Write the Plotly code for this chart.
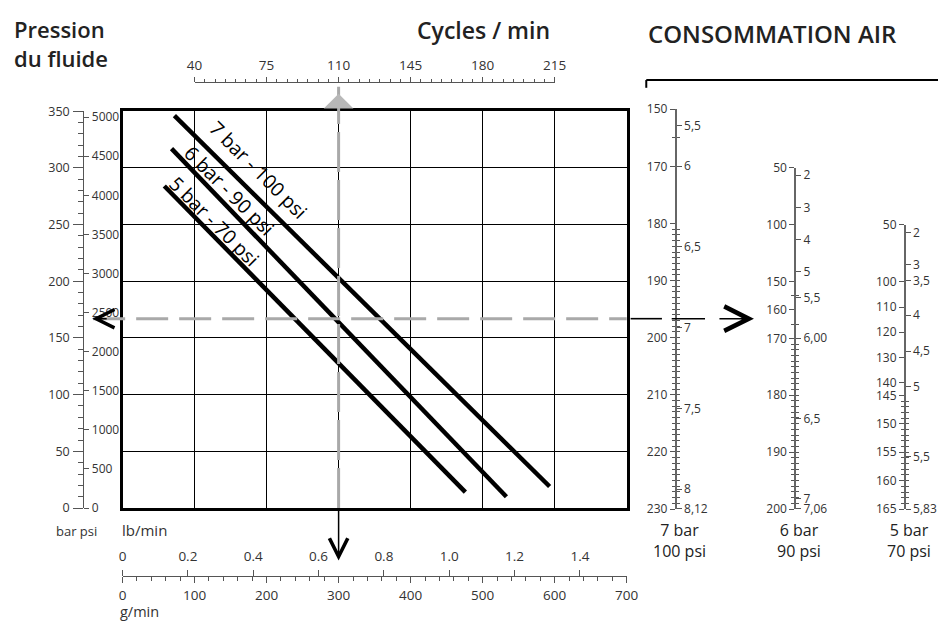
import numpy as np
import plotly.graph_objects as go

# ---------------- data ----------------
flow_g_ticks = [0, 100, 200, 300, 400, 500, 600, 700]
flow_lb_ticks = [0, 0.2, 0.4, 0.6, 0.8, 1.0, 1.2, 1.4]
flow_lb_labels = ["0", "0.2", "0.4", "0.6", "0.8", "1.0", "1.2", "1.4"]
cycles_ticks = [40, 75, 110, 145, 180, 215]
bar_ticks = [0, 50, 100, 150, 200, 250, 300, 350]
psi_ticks = [0, 500, 1000, 1500, 2000, 2500, 3000, 3500, 4000, 4500, 5000]

curve_names = ["7 bar - 100 psi", "6 bar - 90 psi", "5 bar - 70 psi"]
curve_flow_g = [[72, 593], [68, 533], [58, 476]]
curve_pressure_bar = [[346, 19], [317, 10], [284, 14]]
curve_label_flow_g = [168, 136, 117]
curve_label_offset = [15, 9, 8]

example_flow_g = 300          # 110 cycles/min
example_pressure_bar = 167

# air consumption scales (l/min on the left, cfm on the right)
air7_lmin = [150, 170, 180, 190, 200, 210, 220, 230]
air7_cfm = [5.5, 6, 6.5, 7, 7.5, 8, 8.12]
air7_cfm_text = ["5,5", "6", "6,5", "7", "7,5", "8", "8,12"]
air7_minor_lmin = [160] + list(range(181, 230))
air7_knots_lmin = [150, 170, 230]
air7_knots_pos = [0, 10, 70]

air6_lmin = [50, 100, 150, 160, 170, 180, 190, 200]
air6_cfm = [2, 3, 4, 5, 5.5, 6, 6.5, 7, 7.06]
air6_cfm_text = ["2", "3", "4", "5", "5,5", "6,00", "6,5", "7", "7,06"]
air6_minor_lmin = [155, 165] + list(range(171, 200))
air6_knots_lmin = [50, 150, 170, 200]
air6_knots_pos = [0, 20, 30, 60]

air5_lmin = [50, 100, 110, 120, 130, 140, 145, 150, 155, 160, 165]
air5_cfm = [2, 3, 3.5, 4, 4.5, 5, 5.5, 5.83]
air5_cfm_text = ["2", "3", "3,5", "4", "4,5", "5", "5,5", "5,83"]
air5_minor_lmin = list(range(146, 165))
air5_knots_lmin = [50, 100, 145, 165]
air5_knots_pos = [0, 10, 30, 50]

G_PER_LB = 453.592
PSI_PER_BAR = 14.5038
L_PER_CFM = 28.317
CYCLES_AT_100G = 40
CYCLES_PER_G = 0.35

# ---------------- layout geometry (pixels) ----------------
W, H = 950, 626
FONT = "Open Sans"
TXT = "#333333"
AX = "#555555"


def px(x):
    return x / W


def py(y):
    return 1 - y / H


MAIN_X = (117, 632)
MAIN_Y = (513, 105)
PRESSURE_AXIS_X = 77
FLOW_AXIS_Y = 583
CYCLES_AXIS_Y = 75
SCALE_BOTTOM = 514
SCALES = [
    dict(x=682, top=103, lmin=air7_lmin, cfm=air7_cfm, cfm_text=air7_cfm_text,
         minor=air7_minor_lmin, kl=air7_knots_lmin, kp=air7_knots_pos, cap="7 bar<br>100 psi"),
    dict(x=804, top=163, lmin=air6_lmin, cfm=air6_cfm, cfm_text=air6_cfm_text,
         minor=air6_minor_lmin, kl=air6_knots_lmin, kp=air6_knots_pos, cap="6 bar<br>90 psi"),
    dict(x=916, top=222, lmin=air5_lmin, cfm=air5_cfm, cfm_text=air5_cfm_text,
         minor=air5_minor_lmin, kl=air5_knots_lmin, kp=air5_knots_pos, cap="5 bar<br>70 psi"),
]

main_dom_x = [px(MAIN_X[0]), px(MAIN_X[1])]
main_dom_y = [py(MAIN_Y[0]), py(MAIN_Y[1])]


def g_to_paper(g):
    return main_dom_x[0] + g / 700 * (main_dom_x[1] - main_dom_x[0])


def cycles_to_g(c):
    return 100 + (c - CYCLES_AT_100G) / CYCLES_PER_G


def tf(size):
    return dict(family=FONT, size=size, color=TXT)


fig = go.Figure()

# pressure / flow curves
for name, g, p in zip(curve_names, curve_flow_g, curve_pressure_bar):
    fig.add_trace(go.Scatter(x=g, y=p, mode="lines", name=name,
                             line=dict(color="black", width=4.5),
                             showlegend=False, hoverinfo="skip"))


def anchor_trace(xa, ya):
    fig.add_trace(go.Scatter(x=[None], y=[None], xaxis=xa, yaxis=ya, mode="markers",
                             showlegend=False, hoverinfo="skip"))


for xa, ya in [("x", "y2"), ("x", "y3"), ("x2", "y"), ("x3", "y"), ("x4", "y4"),
               ("x5", "y5"), ("x5", "y6"), ("x5", "y7"), ("x5", "y8"), ("x5", "y9"), ("x5", "y10")]:
    anchor_trace(xa, ya)

layout = dict(
    width=W, height=H, margin=dict(l=0, r=0, t=0, b=0),
    paper_bgcolor="white", plot_bgcolor="rgba(0,0,0,0)",
    font=dict(family=FONT, color=TXT),
    showlegend=False,
    xaxis=dict(domain=main_dom_x, range=[0, 700], anchor="y", tickmode="array",
               tickvals=flow_g_ticks, showticklabels=False, ticks="",
               showgrid=True, gridcolor="black", gridwidth=1.2, zeroline=False,
               showline=True, linecolor="black", linewidth=3, mirror=True),
    yaxis=dict(domain=main_dom_y, range=[0, 350], anchor="x", tickmode="array",
               tickvals=bar_ticks, showticklabels=False, ticks="",
               showgrid=True, gridcolor="black", gridwidth=1.2, zeroline=False,
               showline=True, linecolor="black", linewidth=3, mirror=True),
    # bar (left) and psi (right) pressure scale
    yaxis2=dict(overlaying="y", anchor="free", position=px(PRESSURE_AXIS_X), side="left",
                range=[0, 350], tickmode="array", tickvals=bar_ticks, ticks="outside",
                ticklen=10, tickcolor=AX, showline=True, linecolor=AX, linewidth=1.2,
                showgrid=False, zeroline=False, tickfont=tf(12.5), ticklabelstandoff=1,
                minor=dict(dtick=10, tick0=0, ticks="outside", ticklen=5, tickcolor=AX)),
    yaxis3=dict(overlaying="y", anchor="free", position=px(PRESSURE_AXIS_X), side="right",
                range=[0, 350 * PSI_PER_BAR], tickmode="array", tickvals=psi_ticks,
                ticks="outside", ticklen=5, tickcolor=AX, showline=False,
                showgrid=False, zeroline=False, tickfont=tf(12),
                ticklabelstandoff=0),
    # g/min (below) and lb/min (above) flow scale
    xaxis2=dict(overlaying="x", anchor="free", position=py(FLOW_AXIS_Y), side="bottom",
                range=[0, 700], tickmode="array", tickvals=flow_g_ticks, ticks="outside",
                ticklen=6, tickcolor=AX, showline=True, linecolor=AX, linewidth=1.2,
                showgrid=False, zeroline=False, tickfont=tf(13.5), ticklabelstandoff=1,
                minor=dict(dtick=20, tick0=0, ticks="outside", ticklen=4, tickcolor=AX)),
    xaxis3=dict(overlaying="x", anchor="free", position=py(FLOW_AXIS_Y), side="top",
                range=[0, 700 / G_PER_LB], tickmode="array", tickvals=flow_lb_ticks,
                ticktext=flow_lb_labels, ticks="outside", ticklen=6, tickcolor=AX,
                showline=False, showgrid=False, zeroline=False, tickfont=tf(13.5),
                ticklabelstandoff=4),
    # cycles / min
    xaxis4=dict(domain=[g_to_paper(cycles_to_g(cycles_ticks[0])), g_to_paper(cycles_to_g(cycles_ticks[-1]))],
                range=[cycles_ticks[0], cycles_ticks[-1]], anchor="free",
                position=py(CYCLES_AXIS_Y), side="top", tickmode="array",
                tickvals=cycles_ticks, ticks="outside", ticklen=5, tickcolor=AX,
                showline=True, linecolor=AX, linewidth=1.2, showgrid=False,
                zeroline=False, tickfont=tf(13.5), ticklabelstandoff=1,
                minor=dict(dtick=5, tick0=40, ticks="outside", ticklen=3, tickcolor=AX)),
    yaxis4=dict(domain=[py(80), 1], range=[0, 1], anchor="x4", visible=False),
    xaxis5=dict(domain=[px(640), 1], range=[0, 1], anchor="y5", visible=False),
)

for i, sc in enumerate(SCALES):
    yl = f"yaxis{5 + 2 * i}"
    yr = f"yaxis{6 + 2 * i}"
    dom = [py(SCALE_BOTTOM), py(sc["top"])]
    rng = [sc["kp"][-1], sc["kp"][0]]
    lpos = list(np.interp(sc["lmin"], sc["kl"], sc["kp"]))
    cpos = list(np.interp(np.array(sc["cfm"]) * L_PER_CFM, sc["kl"], sc["kp"]))
    mpos = list(np.interp(sc["minor"], sc["kl"], sc["kp"]))
    common = dict(anchor="free", position=px(sc["x"]), range=rng, tickmode="array",
                  ticks="outside", ticklen=5, tickcolor=AX, showgrid=False,
                  zeroline=False, tickfont=tf(12),
                  minor=dict(tickmode="array", tickvals=mpos, ticks="outside",
                             ticklen=3, tickcolor=AX))
    layout[yl] = dict(domain=dom, side="left", tickvals=lpos,
                      ticktext=[str(v) for v in sc["lmin"]], showline=True,
                      linecolor="#666666", linewidth=1.6, **common)
    layout[yr] = dict(overlaying=f"y{5 + 2 * i}", side="right", tickvals=cpos,
                      ticktext=sc["cfm_text"], showline=False, **common)

fig.update_layout(**layout)

# ---------------- reading example (dashed guide lines) ----------------
gray = "#a9a9a9"
shapes = [
    dict(type="line", xref="x", yref="paper", x0=example_flow_g, x1=example_flow_g,
         y0=py(MAIN_Y[0]), y1=py(80), line=dict(color=gray, width=3, dash="40px,8px")),
    dict(type="line", xref="paper", yref="y", x0=px(PRESSURE_AXIS_X + 10), x1=px(MAIN_X[1]),
         y0=example_pressure_bar, y1=example_pressure_bar,
         line=dict(color=gray, width=3, dash="32px,11px")),
    dict(type="line", xref="paper", yref="y", x0=px(MAIN_X[1] + 4), x1=px(SCALES[0]["x"] - 14),
         y0=example_pressure_bar, y1=example_pressure_bar,
         line=dict(color="black", width=1.6)),
    dict(type="line", xref="paper", yref="y", x0=px(SCALES[0]["x"] - 4), x1=px(SCALES[0]["x"] + 30),
         y0=example_pressure_bar, y1=example_pressure_bar,
         line=dict(color="black", width=1.6)),
    # bracket of "CONSOMMATION AIR"
    dict(type="line", xref="paper", yref="paper", x0=px(652), x1=1, y0=py(73), y1=py(73),
         line=dict(color="black", width=2)),
    dict(type="line", xref="paper", yref="paper", x0=px(652), x1=px(652), y0=py(73), y1=py(81),
         line=dict(color="black", width=2)),
]
fig.update_layout(shapes=shapes)

ann = []
# arrows
ann.append(dict(x=px(SCALES[0]["x"] + 80), y=example_pressure_bar, xref="paper", yref="y",
                ax=-36, ay=0, text="", showarrow=True, arrowhead=5, arrowsize=3,
                arrowwidth=1.6, arrowcolor="black"))
ann.append(dict(x=px(PRESSURE_AXIS_X + 9), y=example_pressure_bar, xref="paper", yref="y",
                ax=16, ay=0, text="", showarrow=True, arrowhead=5, arrowsize=2.4,
                arrowwidth=1.5, arrowcolor="black"))
ann.append(dict(x=example_flow_g, y=py(567), xref="x", yref="paper",
                ax=0, ay=-54, text="", showarrow=True, arrowhead=5, arrowsize=2.4,
                arrowwidth=1.5, arrowcolor="black"))
ann.append(dict(x=example_flow_g, y=py(87), xref="x", yref="paper",
                ax=0, ay=14, text="", showarrow=True, arrowhead=1, arrowsize=3.3,
                arrowwidth=1.5, arrowcolor="#b8b8b8"))

# curve labels
for name, g, p, lg, off in zip(curve_names, curve_flow_g, curve_pressure_bar,
                               curve_label_flow_g, curve_label_offset):
    ann.append(dict(x=lg, y=float(np.interp(lg, g, p)), xref="x", yref="y", text=name,
                    showarrow=False, textangle=45, xshift=off, yshift=off,
                    font=dict(family=FONT, size=19.5, color="black")))


# titles and unit labels
def txt(x, y, s, size, anchor="left", weight=None, color="#222222", align="left"):
    f = dict(family=FONT, size=size, color=color)
    if weight:
        f["weight"] = weight
    ann.append(dict(x=px(x), y=py(y), xref="paper", yref="paper", text=s, showarrow=False,
                    xanchor=anchor, yanchor="middle", align=align, font=f))


txt(4, 35, "Pression<br>du fluide", 22, weight=600)
txt(486, 22, "Cycles / min", 23, anchor="center", weight=600)
txt(652, 25, "CONSOMMATION AIR", 24, weight=600)
txt(47, 537, "bar psi", 13, color=TXT)
txt(114, 536, "lb/min", 15, color=TXT)
txt(112, 619, "g/min", 14.5, color=TXT)
for sc in SCALES:
    ann.append(dict(x=px(sc["x"] + 4), y=py(546), xref="paper", yref="paper", text=sc["cap"],
                    showarrow=False, xanchor="center", yanchor="middle", align="center",
                    font=dict(family=FONT, size=16, color="#222222")))

fig.update_layout(annotations=ann)
fig.write_html("out.html", config={"displayModeBar": False},
               post_script="document.body.style.margin='0px';")
